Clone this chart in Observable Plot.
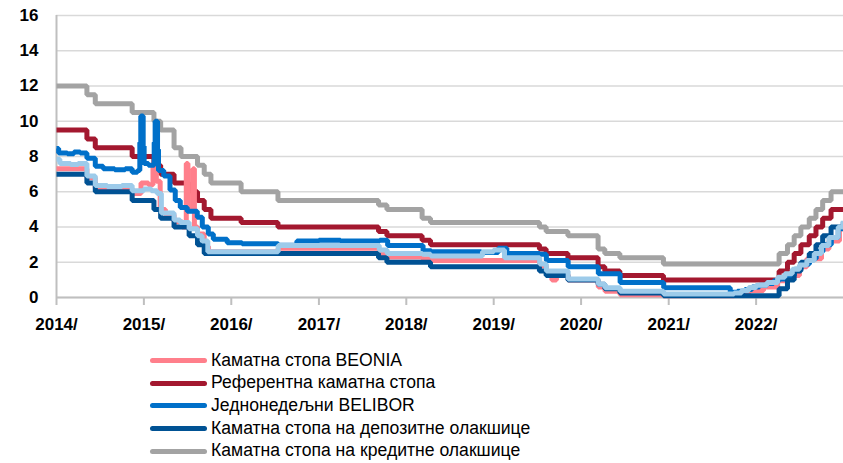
<!DOCTYPE html>
<html><head><meta charset="utf-8">
<script src="https://cdn.jsdelivr.net/npm/d3@7"></script>
<script src="https://cdn.jsdelivr.net/npm/@observablehq/plot@0.6"></script>
<style>
body{margin:0;background:#fff;font-family:"Liberation Sans",Arial,sans-serif;}
#legend{margin-left:150px;margin-top:14px;}
.row{display:flex;align-items:center;height:22.7px;font-size:17.6px;color:#000;line-height:1;}
.sw{width:57px;height:5px;border-radius:3px;margin-right:4px;flex:none;}
</style></head><body>
<div id="chart"></div><div id="legend"></div>
<script>
// ---- Data ----
const yTicks = [0, 2, 4, 6, 8, 10, 12, 14, 16];
const yearTicks = ["2014-01-01","2015-01-01","2016-01-01","2017-01-01","2018-01-01","2019-01-01","2020-01-01","2021-01-01","2022-01-01"];

const seriesNames = [
  "Каматна стопа BEONIA",
  "Референтна каматна стопа",
  "Једнонедељни BELIBOR",
  "Каматна стопа на депозитне олакшице",
  "Каматна стопа на кредитне олакшице"
];
const seriesColors = ["#ff7f8b", "#a3182f", "#0070c9", "#005294", "#a3a3a3"];
const extraColor = "#9dcbea";

// Reference (key policy) rate
const refDates = ["2014-01-01","2014-05-08","2014-06-12","2014-11-13","2015-02-12","2015-03-12","2015-05-07","2015-07-09","2015-08-13","2015-09-10","2015-10-08","2016-02-11","2016-07-14","2017-09-07","2017-10-12","2018-03-08","2018-04-12","2019-07-11","2019-08-08","2019-11-07","2020-03-12","2020-04-09","2020-06-11","2020-12-10","2022-04-07","2022-05-12","2022-06-09","2022-07-07","2022-08-11","2022-09-08","2022-10-06","2022-11-10","2022-12-31"];
const refValues = [9.5,9.0,8.5,8.0,7.5,7.0,6.5,6.0,5.5,5.0,4.5,4.25,4.0,3.75,3.5,3.25,3.0,2.75,2.5,2.25,1.75,1.5,1.25,1.0,1.5,2.0,2.5,3.0,3.5,4.0,4.5,5.0,5.0];

// Deposit facility rate
const depDates = ["2014-01-01","2014-05-08","2014-06-12","2014-11-13","2015-02-12","2015-03-12","2015-05-07","2015-07-09","2015-08-13","2015-09-10","2017-09-07","2017-10-12","2018-04-12","2019-07-11","2019-08-08","2019-11-07","2020-03-12","2020-04-09","2020-06-11","2020-12-10","2022-04-07","2022-05-12","2022-06-09","2022-07-07","2022-08-11","2022-09-08","2022-10-06","2022-11-10","2022-12-31"];
const depValues = [7.0,6.5,6.0,5.5,5.0,4.5,4.0,3.5,3.0,2.5,2.25,2.0,1.75,1.5,1.25,1.0,0.75,0.5,0.25,0.1,0.5,1.0,1.5,2.0,2.5,3.0,3.5,4.0,4.0];

// Lending facility rate
const lendDates = ["2014-01-01","2014-05-08","2014-06-12","2014-11-13","2015-02-12","2015-03-12","2015-05-07","2015-06-05","2015-08-13","2015-09-10","2015-10-08","2016-02-11","2016-07-14","2017-09-07","2017-10-12","2018-03-08","2018-04-12","2019-07-11","2019-08-08","2019-11-07","2020-03-12","2020-04-09","2020-06-11","2020-12-10","2022-04-07","2022-05-12","2022-06-09","2022-07-07","2022-08-11","2022-09-08","2022-10-06","2022-11-10","2022-12-31"];
const lendValues = [12.0,11.5,11.0,10.5,10.0,9.5,8.5,8.0,7.5,7.0,6.5,6.0,5.5,5.25,5.0,4.5,4.25,4.0,3.75,3.5,2.75,2.5,2.25,1.9,2.5,3.0,3.5,4.0,4.5,5.0,5.5,6.0,6.0];

// One-week BELIBOR
const belDates = ["2014-01-01","2014-01-10","2014-02-15","2014-03-15","2014-04-10","2014-05-08","2014-06-12","2014-07-15","2014-09-01","2014-10-15","2014-11-13","2014-12-05","2014-12-15","2014-12-19","2014-12-29","2015-01-02","2015-01-20","2015-02-13","2015-02-17","2015-02-27","2015-03-03","2015-03-25","2015-04-20","2015-05-12","2015-06-02","2015-07-01","2015-08-12","2015-09-02","2015-09-27","2015-10-18","2015-12-15","2016-02-15","2016-07-15","2016-10-01","2017-01-01","2017-04-01","2017-09-12","2017-10-15","2018-03-12","2018-04-15","2018-11-10","2019-01-20","2019-02-25","2019-07-12","2019-08-09","2019-11-08","2020-03-13","2020-06-12","2020-12-11","2021-09-15","2021-10-15","2021-11-15","2021-12-15","2022-01-15","2022-02-15","2022-03-15","2022-04-08","2022-05-13","2022-06-10","2022-07-08","2022-08-12","2022-09-09","2022-10-07","2022-11-11","2022-12-10","2022-12-31"];
const belValues = [8.45,8.2,8.15,8.25,8.2,7.9,7.45,7.3,7.25,7.3,7.1,7.2,8.8,10.3,8.6,7.6,7.5,8.8,10.0,8.4,7.2,6.9,6.1,5.5,5.1,4.9,4.55,4.0,3.6,3.3,3.1,3.05,2.97,3.2,3.25,3.2,3.25,2.95,2.65,2.6,2.55,2.8,2.5,2.45,2.1,1.75,1.35,0.85,0.55,0.3,0.35,0.45,0.6,0.7,0.8,0.95,1.05,1.25,1.6,1.9,2.2,2.6,3.0,3.4,3.9,4.3,4.4];

// Light-blue market rate (drawn, not in legend)
const lbDates = ["2014-01-01","2014-01-15","2014-03-01","2014-04-01","2014-05-08","2014-06-12","2014-08-01","2014-10-01","2014-11-13","2015-01-01","2015-02-01","2015-02-25","2015-03-15","2015-05-07","2015-06-01","2015-07-09","2015-08-13","2015-09-01","2015-09-25","2016-07-15","2017-09-10","2017-10-13","2018-03-09","2018-04-13","2018-11-15","2019-01-01","2019-02-15","2019-07-12","2019-08-09","2019-11-08","2020-03-13","2020-04-10","2020-06-12","2020-12-11","2021-10-01","2021-11-01","2021-12-01","2022-01-01","2022-02-15","2022-04-01","2022-05-01","2022-06-01","2022-07-01","2022-08-01","2022-09-01","2022-10-01","2022-11-01","2022-12-10","2022-12-31"];
const lbValues = [7.85,7.6,7.55,7.6,6.9,6.35,6.3,6.35,6.05,6.15,6.05,5.9,4.8,4.4,4.25,3.9,3.5,3.2,2.6,2.95,2.7,2.5,2.45,2.35,2.6,2.7,2.25,1.9,1.5,1.05,0.75,0.55,0.35,0.2,0.25,0.4,0.57,0.7,0.85,1.15,1.35,1.6,1.85,2.1,2.5,2.95,3.4,4.0,4.35];

// BEONIA
const beoDates = ["2014-01-01","2014-05-08","2014-06-12","2014-11-13","2014-12-20","2015-01-20","2015-02-08","2015-02-22","2015-03-10","2015-04-01","2015-05-07","2015-06-10","2015-06-27","2015-07-04","2015-07-25","2015-07-31","2015-08-13","2015-09-10","2015-09-28","2016-07-15","2017-09-10","2017-10-13","2018-03-09","2018-04-13","2019-07-12","2019-08-09","2019-09-01","2019-09-20","2019-11-08","2020-03-13","2020-04-10","2020-06-12","2020-12-11","2021-10-01","2021-12-01","2022-02-01","2022-04-01","2022-05-01","2022-07-01","2022-08-01","2022-10-01","2022-11-01","2022-12-15","2022-12-31"];
const beoValues = [7.3,6.8,6.2,5.9,6.5,6.4,7.4,6.6,5.0,4.7,4.3,4.0,7.6,5.0,7.3,4.0,3.6,2.9,2.6,2.8,2.5,2.3,2.2,2.1,1.8,1.3,1.0,1.3,1.0,0.6,0.35,0.15,0.1,0.15,0.4,0.6,0.95,1.25,1.75,2.2,2.75,3.2,3.9,4.2];

// ---- Build ----
const parse = d3.utcParse("%Y-%m-%d");
const mk = (dates, values) => dates.map((d, i) => ({date: parse(d), value: values[i]}));
const beo = mk(beoDates, beoValues);
const ref = mk(refDates, refValues);
const bel = mk(belDates, belValues);
const dep = mk(depDates, depValues);
const lend = mk(lendDates, lendValues);
const lb = mk(lbDates, lbValues);

const sw = 5;
const line = (data, color) => Plot.line(data, {x: "date", y: "value", stroke: color, strokeWidth: sw, curve: "step-after", strokeLinejoin: "miter", strokeLinecap: "butt"});
const years = yearTicks.map(parse);

const chart = Plot.plot({
  width: 843, height: 335,
  marginTop: 15, marginBottom: 38, marginLeft: 56, marginRight: 0,
  style: {fontFamily: '"Liberation Sans", Arial, sans-serif', background: "white", overflow: "visible"},
  x: {type: "utc", domain: [parse("2014-01-01"), parse("2023-01-01")], label: null},
  y: {domain: [0, 16], label: null},
  marks: [
    Plot.gridY(yTicks, {stroke: "#d9d9d9", strokeOpacity: 1, strokeWidth: 1.5}),
    Plot.axisY(yTicks, {tickSize: 0, tickPadding: 18, fontSize: 17, fontWeight: "bold", fill: "#000", label: null}),
    Plot.axisX(years, {tickSize: 8, tickFormat: () => "", stroke: "#bfbfbf", strokeWidth: 2, label: null}),
    Plot.axisX(years, {tickSize: 0, tickPadding: 20, tickFormat: d => d.getUTCFullYear() + "/", fontSize: 17, fontWeight: "bold", fill: "#000", label: null}),
    Plot.ruleY([0], {stroke: "#bfbfbf", strokeWidth: 2}),
    Plot.ruleX([parse("2014-01-01")], {stroke: "#bfbfbf", strokeWidth: 2}),
    line(lend, seriesColors[4]),
    line(ref, seriesColors[1]),
    line(beo, seriesColors[0]),
    line(bel, seriesColors[2]),
    line(dep, seriesColors[3]),
    line(lb, extraColor)
  ]
});
document.getElementById("chart").appendChild(chart);

const legend = document.getElementById("legend");
seriesNames.forEach((name, i) => {
  const row = document.createElement("div");
  row.className = "row";
  const s = document.createElement("span");
  s.className = "sw";
  s.style.background = seriesColors[i];
  const t = document.createElement("span");
  t.textContent = name;
  row.appendChild(s); row.appendChild(t);
  legend.appendChild(row);
});
</script></body></html>
